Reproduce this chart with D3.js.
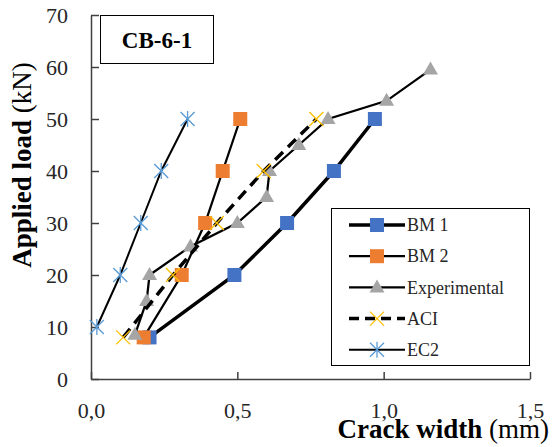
<!DOCTYPE html>
<html>
<head>
<meta charset="utf-8">
<script src="https://cdn.jsdelivr.net/npm/d3@7"></script>
<style>
  body { margin: 0; background: #fff; }
  svg text { font-family: "Liberation Serif", "Times New Roman", "DejaVu Serif", serif !important; }
  .axis path, .axis line { stroke: #404040; stroke-width: 1.5; }
  .axis text { font-size: 22px; fill: #262626; }
</style>
</head>
<body>
<div id="chart"></div>
<script>
// data: crack width (mm) vs applied load (kN)
var bm1X = [0.20, 0.49, 0.67, 0.83, 0.97];
var bm1Y = [8, 20, 30, 40, 50];
var bm2X = [0.18, 0.31, 0.39, 0.45, 0.51];
var bm2Y = [8, 20, 30, 40, 50];
var expX = [0.15, 0.19, 0.20, 0.34, 0.50, 0.60, 0.61, 0.71, 0.81, 1.01, 1.16];
var expY = [8.5, 15, 20, 25.5, 30, 35, 40, 45, 50, 53.5, 59.5];
var aciX = [0.11, 0.28, 0.43, 0.59, 0.77];
var aciY = [8, 20, 30, 40, 50];
var ec2X = [0.02, 0.10, 0.17, 0.24, 0.33];
var ec2Y = [10, 20, 30, 40, 50];

var seriesNames = ['BM 1', 'BM 2', 'Experimental', 'ACI', 'EC2'];
var xTicks = [0, 0.5, 1.0, 1.5];
var yTicks = [0, 10, 20, 30, 40, 50, 60, 70];

var W = 552, H = 447;
var margin = {t: 15, r: 22, b: 68, l: 91};
var serif = '"Liberation Serif", "Times New Roman", serif';

var svg = d3.select('#chart').append('svg')
    .attr('width', W)
    .attr('height', H);

var scaleX = d3.scaleLinear().domain([0, 1.5]).range([margin.l, W - margin.r]);
var scaleY = d3.scaleLinear().domain([0, 70]).range([H - margin.b, margin.t]);

var commaFmt = function(d){ return d3.format('.1f')(d).replace('.', ','); };

// axes - ticks point inward
var axisX = d3.axisBottom(scaleX).tickValues(xTicks).tickFormat(commaFmt)
    .tickSizeInner(-7).tickSizeOuter(0).tickPadding(23);
var axisY = d3.axisLeft(scaleY).tickValues(yTicks)
    .tickSizeInner(-8).tickSizeOuter(0).tickPadding(23);

svg.append('g').attr('class', 'axis axis-x')
    .attr('transform', 'translate(0,' + scaleY(0) + ')')
    .call(axisX)
    .attr('font-family', serif);
svg.append('g').attr('class', 'axis axis-y')
    .attr('transform', 'translate(' + scaleX(0) + ',0)')
    .call(axisY)
    .attr('font-family', serif);
svg.selectAll('.axis-y .tick text').attr('dy', '0.34em');
svg.selectAll('.axis-x .tick text').attr('dy', '0.71em');

// axis titles
svg.append('text')
    .attr('x', 549).attr('y', 438)
    .attr('text-anchor', 'end')
    .style('font-size', '27px')
    .call(function(t){
        t.append('tspan').style('font-weight', 'bold').text('Crack width ');
        t.append('tspan').text('(mm)');
    });

svg.append('text')
    .attr('transform', 'translate(31,165) rotate(-90)')
    .attr('text-anchor', 'middle')
    .style('font-size', '27px')
    .call(function(t){
        t.append('tspan').style('font-weight', 'bold').text('Applied load ');
        t.append('tspan').text('(kN)');
    });

// title box
svg.append('rect')
    .attr('x', 100.5).attr('y', 15.5).attr('width', 113).attr('height', 48)
    .attr('fill', '#fff').attr('stroke', '#000').attr('stroke-width', 1);
svg.append('text')
    .attr('x', 157).attr('y', 48)
    .attr('text-anchor', 'middle')
    .style('font-size', '23px').style('font-weight', 'bold')
    .text('CB-6-1');

// marker drawing
function drawMarker(g, type, cx, cy) {
    if (type === 'square-blue' || type === 'square-orange') {
        g.append('rect')
            .attr('x', cx - 7).attr('y', cy - 7).attr('width', 14).attr('height', 14)
            .attr('fill', type === 'square-blue' ? '#4472c4' : '#ed7d31');
    } else if (type === 'triangle') {
        g.append('path')
            .attr('transform', 'translate(' + cx + ',' + cy + ')')
            .attr('d', 'M0,-8L7.5,5L-7.5,5Z')
            .attr('fill', '#a5a5a5');
    } else if (type === 'x') {
        g.append('path')
            .attr('d', 'M' + (cx - 7) + ',' + (cy - 7) + 'L' + (cx + 7) + ',' + (cy + 7) +
                       'M' + (cx - 7) + ',' + (cy + 7) + 'L' + (cx + 7) + ',' + (cy - 7))
            .attr('stroke', '#ffc000').attr('stroke-width', 1.3).attr('fill', 'none');
    } else if (type === 'star') {
        g.append('path')
            .attr('d', 'M' + (cx - 7) + ',' + (cy - 7) + 'L' + (cx + 7) + ',' + (cy + 7) +
                       'M' + (cx - 7) + ',' + (cy + 7) + 'L' + (cx + 7) + ',' + (cy - 7) +
                       'M' + cx + ',' + (cy - 8) + 'L' + cx + ',' + (cy + 8))
            .attr('stroke', '#5b9bd5').attr('stroke-width', 1.3).attr('fill', 'none');
    }
}

var series = [
    {name: seriesNames[0], xs: bm1X, ys: bm1Y, width: 3.5, dash: null, marker: 'square-blue'},
    {name: seriesNames[1], xs: bm2X, ys: bm2Y, width: 2.25, dash: null, marker: 'square-orange'},
    {name: seriesNames[2], xs: expX, ys: expY, width: 2.25, dash: null, marker: 'triangle'},
    {name: seriesNames[3], xs: aciX, ys: aciY, width: 3.5, dash: '11,7', marker: 'x'},
    {name: seriesNames[4], xs: ec2X, ys: ec2Y, width: 2, dash: null, marker: 'star'}
];

var line = d3.line()
    .x(function(d){ return scaleX(d[0]); })
    .y(function(d){ return scaleY(d[1]); });

var plot = svg.append('g').attr('class', 'plot');

series.forEach(function(s){
    var pts = s.xs.map(function(x, i){ return [x, s.ys[i]]; });
    var g = plot.append('g');
    g.append('path')
        .datum(pts)
        .attr('d', line)
        .attr('fill', 'none')
        .attr('stroke', '#000')
        .attr('stroke-width', s.width)
        .attr('stroke-dasharray', s.dash);
    pts.forEach(function(p){
        drawMarker(g, s.marker, scaleX(p[0]), scaleY(p[1]));
    });
});

// legend
var legend = svg.append('g').attr('class', 'legend');
legend.append('rect')
    .attr('x', 331.5).attr('y', 208.5).attr('width', 198).attr('height', 157)
    .attr('fill', '#fff').attr('stroke', '#000').attr('stroke-width', 1);

series.forEach(function(s, i){
    var yy = 225 + i * 31.2;
    var g = legend.append('g');
    g.append('line')
        .attr('x1', 349).attr('x2', 405).attr('y1', yy).attr('y2', yy)
        .attr('stroke', '#000').attr('stroke-width', s.width)
        .attr('stroke-dasharray', s.dash ? '10,6' : null);
    drawMarker(g, s.marker, 377, yy);
    g.append('text')
        .attr('x', 407).attr('y', yy).attr('dy', '0.34em')
        .style('font-size', '18px').attr('fill', '#262626')
        .text(s.name);
});
</script>
</body>
</html>
